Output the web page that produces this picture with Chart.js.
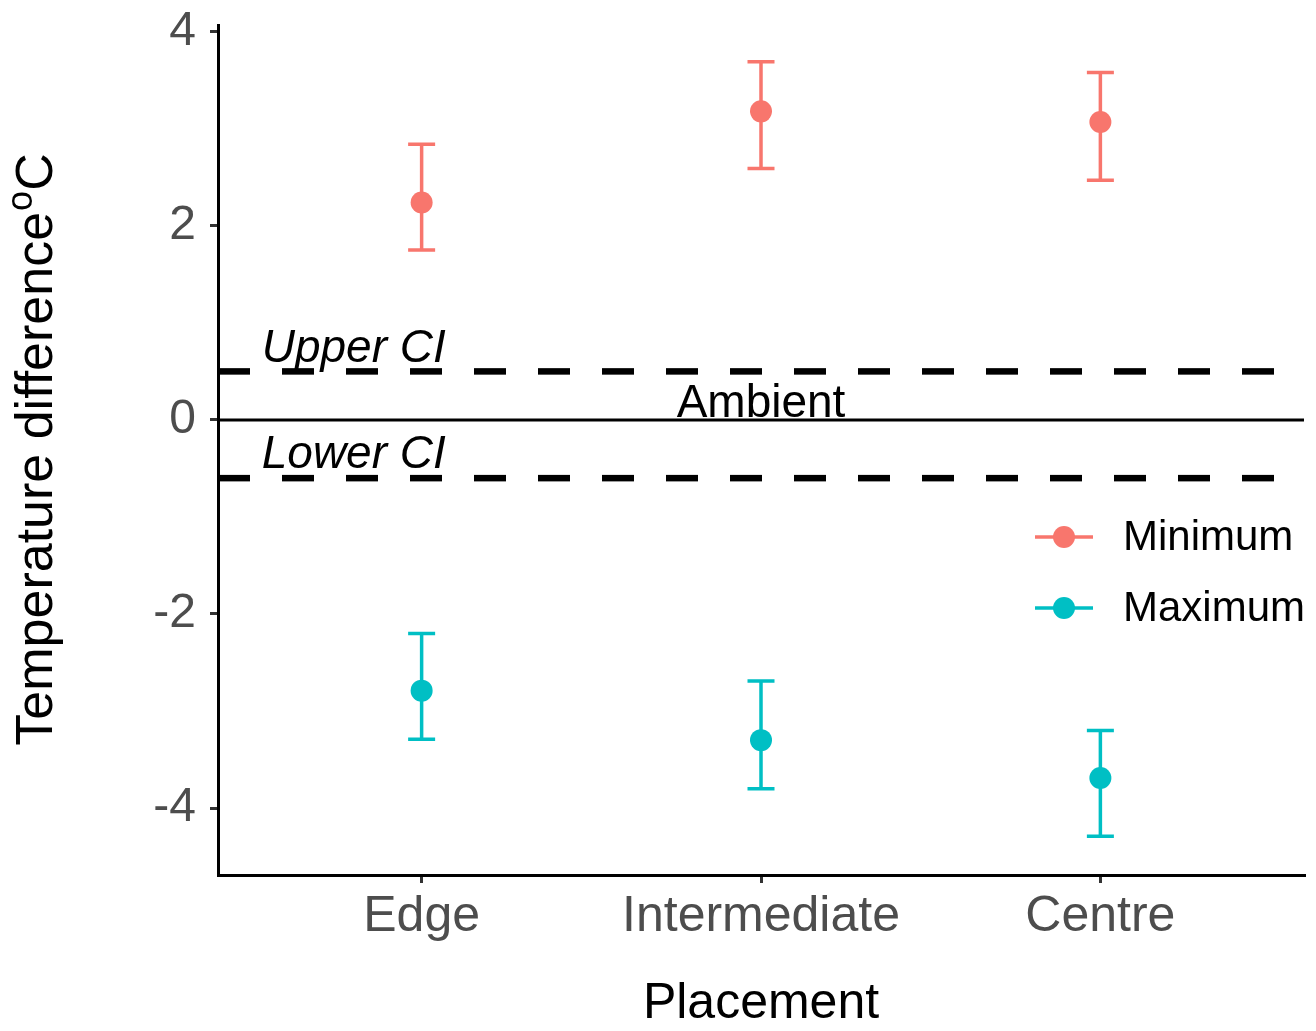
<!DOCTYPE html>
<html>
<head>
<meta charset="utf-8">
<script src="https://cdn.jsdelivr.net/npm/chart.js@4.4.0/dist/chart.umd.min.js"></script>
<style>
    body { margin: 0; background: #fff; }
    #wrap { width: 1316px; height: 1031px; }
</style>
</head>
<body>
<div id="wrap"><canvas id="tempChart"></canvas></div>
<script>
// categories and values
const placements = ['Edge', 'Intermediate', 'Centre'];
const minMean  = [2.24, 3.18, 3.07];
const minLower = [1.75, 2.59, 2.47];
const minUpper = [2.84, 3.69, 3.58];
const maxMean  = [-2.79, -3.30, -3.69];
const maxLower = [-3.29, -3.80, -4.29];
const maxUpper = [-2.20, -2.69, -3.20];

// reference lines: upper CI, ambient, lower CI
const refLevels = [0.5, 0, -0.6];
const refDashed = [true, false, true];
const refLabels = ['Upper CI', 'Ambient', 'Lower CI'];
const refLabelX = [0.8, 2, 0.8];
const refLabelY = [0.6, 0.03, -0.5];
const refItalic = [true, false, true];

const yTicks = [-4, -2, 0, 2, 4];
const xTicks = [1, 2, 3];

const RED = '#F8766D';
const CYAN = '#00BFC4';
const FONT = '"Liberation Sans", Arial, sans-serif';

const toPoints = arr => arr.map((v, i) => ({ x: i + 1, y: v }));

const series = [
    { label: 'Minimum', color: RED, mean: minMean, lo: minLower, hi: minUpper },
    { label: 'Maximum', color: CYAN, mean: maxMean, lo: maxLower, hi: maxUpper }
];

// reference lines under everything
const refLinePlugin = {
    id: 'refLines',
    beforeDatasetsDraw(chart) {
        const { ctx, chartArea, scales } = chart;
        ctx.save();
        refLevels.forEach((lv, i) => {
            const y = scales.y.getPixelForValue(lv);
            ctx.beginPath();
            ctx.strokeStyle = '#000';
            if (refDashed[i]) {
                ctx.lineWidth = 6.5;
                ctx.setLineDash([32, 32]);
            } else {
                ctx.lineWidth = 3;
                ctx.setLineDash([]);
            }
            ctx.moveTo(chartArea.left, y);
            ctx.lineTo(chartArea.right, y);
            ctx.stroke();
        });
        ctx.restore();
    },
    afterDatasetsDraw(chart) {
        const { ctx, scales } = chart;
        ctx.save();
        ctx.fillStyle = '#000';
        ctx.textAlign = 'center';
        ctx.textBaseline = 'alphabetic';
        refLabels.forEach((txt, i) => {
            ctx.font = (refItalic[i] ? 'italic ' : '') + '46px ' + FONT;
            ctx.fillText(txt, scales.x.getPixelForValue(refLabelX[i]), scales.y.getPixelForValue(refLabelY[i]));
        });
        ctx.restore();
    }
};

// error bars from the lower/upper arrays
const errorBarPlugin = {
    id: 'errorBars',
    beforeDatasetsDraw(chart) {
        const { ctx, scales } = chart;
        ctx.save();
        ctx.lineWidth = 3.5;
        series.forEach(s => {
            ctx.strokeStyle = s.color;
            s.mean.forEach((m, i) => {
                const x = scales.x.getPixelForValue(i + 1);
                const yLo = scales.y.getPixelForValue(s.lo[i]);
                const yHi = scales.y.getPixelForValue(s.hi[i]);
                ctx.beginPath();
                ctx.moveTo(x, yLo); ctx.lineTo(x, yHi);
                ctx.moveTo(x - 13.5, yLo); ctx.lineTo(x + 13.5, yLo);
                ctx.moveTo(x - 13.5, yHi); ctx.lineTo(x + 13.5, yHi);
                ctx.stroke();
            });
        });
        ctx.restore();
    }
};

// axis titles and legend
const decorPlugin = {
    id: 'decor',
    afterDraw(chart) {
        const { ctx, chartArea } = chart;
        ctx.save();
        ctx.fillStyle = '#000';

        // x title
        ctx.font = '50px ' + FONT;
        ctx.textAlign = 'center';
        ctx.textBaseline = 'alphabetic';
        ctx.fillText('Placement', (chartArea.left + chartArea.right) / 2, 1018);

        // y title with superscript degree
        const main = 'Temperature difference';
        ctx.font = '52px ' + FONT;
        const w1 = ctx.measureText(main).width;
        const wC = ctx.measureText('C').width;
        ctx.font = '36px ' + FONT;
        const wo = ctx.measureText('o').width;
        const total = w1 + wo + wC;
        ctx.translate(52, (chartArea.top + chartArea.bottom) / 2);
        ctx.rotate(-Math.PI / 2);
        ctx.textAlign = 'left';
        let x0 = -total / 2;
        ctx.font = '52px ' + FONT;
        ctx.fillText(main, x0, 0);
        ctx.font = '36px ' + FONT;
        ctx.fillText('o', x0 + w1 + 1, -20);
        ctx.font = '52px ' + FONT;
        ctx.fillText('C', x0 + w1 + wo + 1, 0);
        ctx.setTransform(1, 0, 0, 1, 0, 0);
        ctx.restore();

        // legend
        ctx.save();
        const rowY = [537, 608];
        series.forEach((s, i) => {
            const y = rowY[i];
            ctx.strokeStyle = s.color;
            ctx.lineWidth = 3.5;
            ctx.beginPath();
            ctx.moveTo(1035, y); ctx.lineTo(1093, y);
            ctx.stroke();
            ctx.fillStyle = s.color;
            ctx.beginPath();
            ctx.arc(1064, y, 11, 0, Math.PI * 2);
            ctx.fill();
            ctx.fillStyle = '#000';
            ctx.font = '42px ' + FONT;
            ctx.textAlign = 'left';
            ctx.textBaseline = 'middle';
            ctx.fillText(s.label, 1123, y + 1);
        });
        ctx.restore();
    }
};

new Chart(document.getElementById('tempChart'), {
    type: 'line',
    data: {
        datasets: series.map(s => ({
            label: s.label,
            data: toPoints(s.mean),
            showLine: false,
            pointRadius: 11,
            pointHoverRadius: 11,
            pointBackgroundColor: s.color,
            pointBorderColor: s.color,
            pointBorderWidth: 0,
            borderColor: s.color,
            backgroundColor: s.color
        }))
    },
    options: {
        responsive: true,
        maintainAspectRatio: false,
        animation: false,
        layout: { padding: { top: 25, right: 12, left: 0, bottom: 0 } },
        plugins: {
            legend: { display: false },
            tooltip: { enabled: false }
        },
        scales: {
            x: {
                type: 'linear',
                min: 0.4,
                max: 3.6,
                afterBuildTicks: axis => { axis.ticks = xTicks.map(v => ({ value: v })); },
                afterFit: axis => {
                    axis.height = 156;
                    axis.paddingLeft = 0;
                    axis.paddingRight = 0;
                },
                ticks: {
                    callback: v => placements[v - 1] || '',
                    color: '#4D4D4D',
                    font: { family: FONT, size: 50 },
                    padding: 4,
                    maxRotation: 0
                },
                grid: {
                    display: true,
                    drawOnChartArea: false,
                    drawTicks: true,
                    tickLength: 8,
                    tickColor: '#333',
                    lineWidth: 3
                },
                border: { display: true, color: '#000', width: 3 }
            },
            y: {
                type: 'linear',
                min: -4.69,
                max: 4.07,
                afterBuildTicks: axis => { axis.ticks = yTicks.map(v => ({ value: v })); },
                afterFit: axis => {
                    axis.width = 218;
                    axis.paddingTop = 0;
                    axis.paddingBottom = 0;
                },
                ticks: {
                    color: '#4D4D4D',
                    font: { family: FONT, size: 48 },
                    padding: 14
                },
                grid: {
                    display: true,
                    drawOnChartArea: false,
                    drawTicks: true,
                    tickLength: 8,
                    tickColor: '#333',
                    lineWidth: 3
                },
                border: { display: true, color: '#000', width: 3 }
            }
        }
    },
    plugins: [refLinePlugin, errorBarPlugin, decorPlugin]
});
</script>
</body>
</html>
